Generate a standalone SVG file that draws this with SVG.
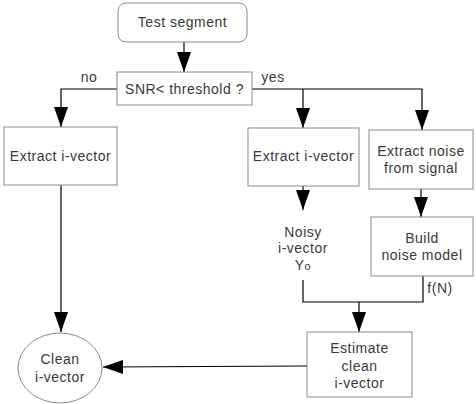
<svg xmlns="http://www.w3.org/2000/svg" width="476" height="404" viewBox="0 0 476 404">
<defs>
<style>
.box{fill:#fff;stroke:#8a8a8a;stroke-width:1}
.t{font-family:"Liberation Sans",Arial,sans-serif;font-size:14px;fill:#3a3a3a;text-anchor:middle;letter-spacing:0.5px}
.c{fill:none;stroke:#000;stroke-width:1.2}
</style>
<marker id="ah" markerWidth="20" markerHeight="14" refX="20" refY="7" viewBox="0 0 20 14" markerUnits="userSpaceOnUse" orient="auto">
<path d="M0,0 L20,7 L0,14 Z" fill="#000"/>
</marker>
</defs>
<rect width="476" height="404" fill="#fff"/>
<g id="connectors">
<path class="c" d="M184,42 V72" marker-end="url(#ah)"/>
<path class="c" d="M117,89 H61 V127" marker-end="url(#ah)"/>
<path class="c" d="M252,89 H422 V130" marker-end="url(#ah)"/>
<path class="c" d="M303,89 V128" marker-end="url(#ah)"/>
<path class="c" d="M303,186 V210" marker-end="url(#ah)"/>
<path class="c" d="M421,189 V217" marker-end="url(#ah)"/>
<path class="c" d="M303,280 V302 H423 V276"/>
<path class="c" d="M359,302 V332" marker-end="url(#ah)"/>
<path class="c" d="M61,185 V332" marker-end="url(#ah)"/>
<path class="c" d="M307,366 L103,367" marker-end="url(#ah)"/>
<text class="t" x="89" y="82">no</text>
<text class="t" x="273" y="82">yes</text>
<text class="t" x="440" y="293">f(N)</text>
</g>
<g id="test-segment">
<rect class="box" x="118" y="3" width="129" height="39" rx="8"/>
<text class="t" x="182.5" y="27">Test segment</text>
</g>
<g id="snr">
<rect class="box" x="117" y="72" width="135" height="33"/>
<text class="t" x="184.5" y="94">SNR&lt; threshold ?</text>
</g>
<g id="extract-left">
<rect class="box" x="4" y="127" width="113" height="58"/>
<text class="t" x="60.5" y="161">Extract i-vector</text>
</g>
<g id="extract-mid">
<rect class="box" x="248" y="128" width="111" height="58"/>
<text class="t" x="303.5" y="161">Extract i-vector</text>
</g>
<g id="extract-noise">
<rect class="box" x="369" y="130" width="104" height="59"/>
<text class="t" x="421" y="156">Extract noise</text>
<text class="t" x="421" y="173">from signal</text>
</g>
<g id="noisy">
<text class="t" x="303" y="237">Noisy</text>
<text class="t" x="303" y="253">i-vector</text>
<text class="t" x="303" y="270">Y<tspan font-size="11">o</tspan></text>
</g>
<g id="build-noise">
<rect class="box" x="371" y="217" width="102" height="59"/>
<text class="t" x="422" y="243">Build</text>
<text class="t" x="422" y="260">noise model</text>
</g>
<g id="estimate">
<rect class="box" x="307" y="332" width="105" height="65"/>
<text class="t" x="359.5" y="353">Estimate</text>
<text class="t" x="359.5" y="371">clean</text>
<text class="t" x="359.5" y="388">i-vector</text>
</g>
<g id="clean">
<ellipse class="box" cx="60" cy="368" rx="42" ry="35"/>
<text class="t" x="60" y="364">Clean</text>
<text class="t" x="60" y="382">i-vector</text>
</g>
</svg>
